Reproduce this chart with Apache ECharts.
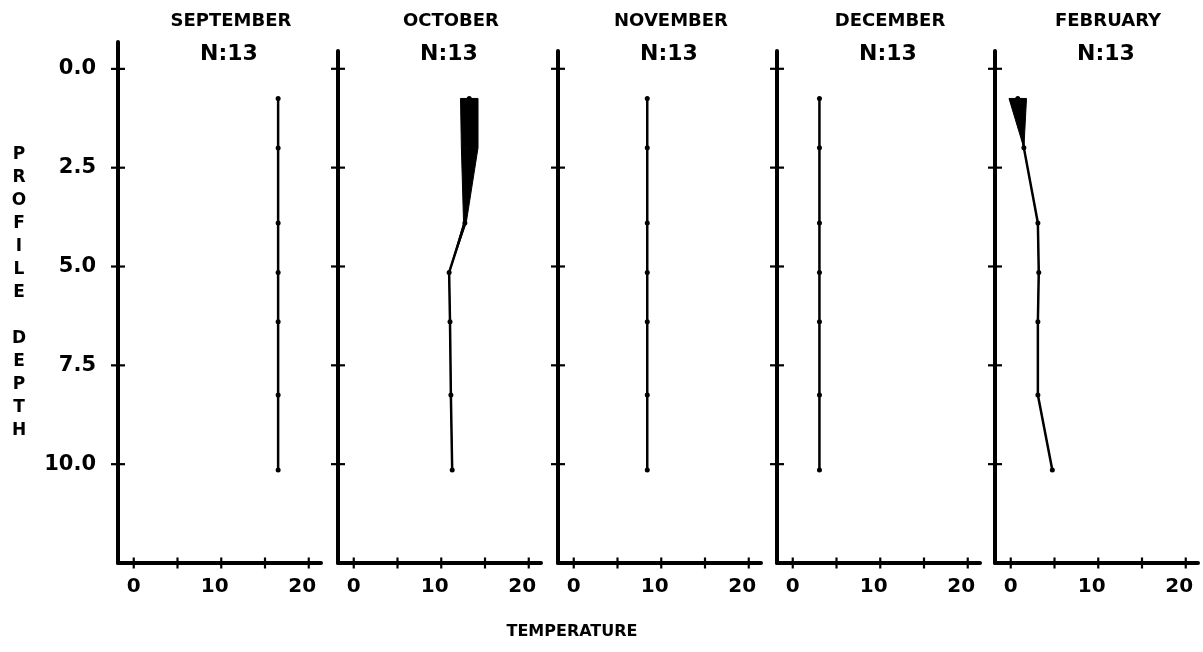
<!DOCTYPE html>
<html>
<head>
<meta charset="utf-8">
<script src="https://cdn.jsdelivr.net/npm/echarts@6/dist/echarts.min.js"></script>
<style>
  html, body { margin: 0; padding: 0; background: #fff; }
  #chart { width: 1203px; height: 652px; }
</style>
</head>
<body>
<div id="chart"></div>
<script>
// Monthly temperature profiles: sampled depths and the lowest / highest
// temperature measured at each depth.
const months = ['SEPTEMBER', 'OCTOBER', 'NOVEMBER', 'DECEMBER', 'FEBRUARY'];
const sampleCounts = [13, 13, 13, 13, 13];
const depths = [0.75, 2.0, 3.9, 5.15, 6.4, 8.25, 10.15];

const septLow  = [16.5, 16.5, 16.5, 16.5, 16.5, 16.5, 16.5];
const septHigh = [16.5, 16.5, 16.5, 16.5, 16.5, 16.5, 16.5];
const octLow   = [12.2, 12.3, 12.55, 10.9, 11.0, 11.1, 11.25];
const octHigh  = [14.2, 14.2, 12.85, 10.9, 11.0, 11.1, 11.25];
const novLow   = [8.4, 8.4, 8.4, 8.4, 8.4, 8.4, 8.4];
const novHigh  = [8.4, 8.4, 8.4, 8.4, 8.4, 8.4, 8.4];
const decLow   = [3.05, 3.05, 3.05, 3.05, 3.05, 3.05, 3.05];
const decHigh  = [3.05, 3.05, 3.05, 3.05, 3.05, 3.05, 3.05];
const febLow   = [-0.2, 1.5, 3.1, 3.2, 3.1, 3.1, 4.75];
const febHigh  = [1.8, 1.5, 3.1, 3.2, 3.1, 3.1, 4.75];

const depthTicks = [0, 2.5, 5, 7.5, 10];
const tempTicks = [0, 5, 10, 15, 20];
const tempLabelValues = [0, 10, 20];

const lows = [septLow, octLow, novLow, decLow, febLow];
const highs = [septHigh, octHigh, novHigh, decHigh, febHigh];

// axis ranges
const TEMP_MIN = -1.8, TEMP_MAX = 21.4;
const DEPTH_MAX = 12.5;
const depthMin = [-0.68, -0.45, -0.45, -0.45, -0.45];

// panel layout
const panelLeft = [118, 338, 558, 777, 995];
const panelWidth = 203;
const panelTop = [42, 51, 51, 51, 51];
const panelBottom = 89;

const INK = '#000';
const SANS = '"DejaVu Sans", sans-serif';
const labelFont = { fontFamily: SANS, fontWeight: 'bold', fontSize: 20, color: INK };

const grids = [], xAxes = [], yAxes = [], series = [], graphics = [];

// small cross-shaped tick mark centred on an axis line
function crossTick(horizontal, half) {
  return (params, api) => {
    const p = api.coord([api.value(0), api.value(1)]);
    const shape = horizontal
      ? { x1: p[0] - half, y1: p[1], x2: p[0] + half, y2: p[1] }
      : { x1: p[0], y1: p[1] - half, x2: p[0], y2: p[1] + half };
    return { type: 'line', shape: shape, style: { stroke: INK, lineWidth: 2.2 } };
  };
}

months.forEach((name, i) => {
  grids.push({ left: panelLeft[i], width: panelWidth, top: panelTop[i], bottom: panelBottom });

  xAxes.push({
    gridIndex: i, type: 'value', min: TEMP_MIN, max: TEMP_MAX, position: 'bottom',
    splitLine: { show: false },
    axisLine: { show: true, onZero: false, lineStyle: { color: INK, width: 4 } },
    axisTick: { show: false },
    axisLabel: {
      show: true, customValues: tempLabelValues, margin: 14,
      formatter: v => (v >= 10 ? '{w|' + v + '}' : '{n|' + v + '}'),
      rich: { n: labelFont, w: Object.assign({ padding: [0, 13, 0, 0] }, labelFont) }
    }
  });

  yAxes.push({
    gridIndex: i, type: 'value', inverse: true, min: depthMin[i], max: DEPTH_MAX, position: 'left',
    splitLine: { show: false },
    axisLine: { show: true, onZero: false, lineStyle: { color: INK, width: 4 } },
    axisTick: { show: false },
    axisLabel: {
      show: i === 0, customValues: depthTicks, margin: 22,
      formatter: v => v.toFixed(1),
      fontFamily: SANS, fontWeight: 'bold', fontSize: 21, color: INK
    }
  });

  // tick crosses on both axes
  series.push({
    type: 'custom', xAxisIndex: i, yAxisIndex: i, silent: true, clip: false, z: 4,
    data: depthTicks.map(d => [TEMP_MIN, d]),
    encode: { x: 0, y: 1 },
    renderItem: crossTick(true, 7)
  });
  series.push({
    type: 'custom', xAxisIndex: i, yAxisIndex: i, silent: true, clip: false, z: 4,
    data: tempTicks.map(t => [t, DEPTH_MAX]),
    encode: { x: 0, y: 1 },
    renderItem: crossTick(false, 5.5)
  });

  const low = lows[i], high = highs[i];

  // shaded range between the lowest and highest profile
  series.push({
    type: 'custom',
    xAxisIndex: i, yAxisIndex: i,
    data: depths.map((d, k) => [low[k], high[k], d]),
    encode: { x: [0, 1], y: 2 },
    silent: true,
    z: 2,
    renderItem: (params, api) => {
      const k = params.dataIndex;
      if (k >= depths.length - 1) return null;
      const pts = [
        api.coord([low[k], depths[k]]),
        api.coord([high[k], depths[k]]),
        api.coord([high[k + 1], depths[k + 1]]),
        api.coord([low[k + 1], depths[k + 1]])
      ];
      return { type: 'polygon', shape: { points: pts }, style: { fill: INK, stroke: INK, lineWidth: 1 } };
    }
  });

  // mean profile line with sample markers
  series.push({
    type: 'line',
    xAxisIndex: i, yAxisIndex: i,
    data: depths.map((d, k) => [(low[k] + high[k]) / 2, d]),
    symbol: 'circle', symbolSize: 5,
    lineStyle: { color: INK, width: 2.5 },
    itemStyle: { color: INK },
    z: 3,
    silent: true
  });

  const cx = panelLeft[i] + 111;
  graphics.push({
    type: 'text', x: cx + 2, y: 21,
    style: { text: name, fill: INK, font: 'bold 18px ' + SANS, align: 'center', verticalAlign: 'middle' }
  });
  graphics.push({
    type: 'text', x: cx, y: 54,
    style: { text: 'N:' + sampleCounts[i], fill: INK, font: 'bold 22px ' + SANS, align: 'center', verticalAlign: 'middle' }
  });
});

graphics.push({
  type: 'text', x: 19, y: 293,
  style: {
    text: 'PROFILE DEPTH'.split('').join('\n'),
    fill: INK, font: 'bold 17px ' + SANS, align: 'center', verticalAlign: 'middle', lineHeight: 23
  }
});
graphics.push({
  type: 'text', x: 572, y: 632,
  style: { text: 'TEMPERATURE', fill: INK, font: 'bold 16px ' + SANS, align: 'center', verticalAlign: 'middle' }
});

const chart = echarts.init(document.getElementById('chart'), null, { renderer: 'canvas' });
chart.setOption({
  backgroundColor: '#fff',
  animation: false,
  grid: grids,
  xAxis: xAxes,
  yAxis: yAxes,
  series: series,
  graphic: graphics
});
</script>
</body>
</html>
